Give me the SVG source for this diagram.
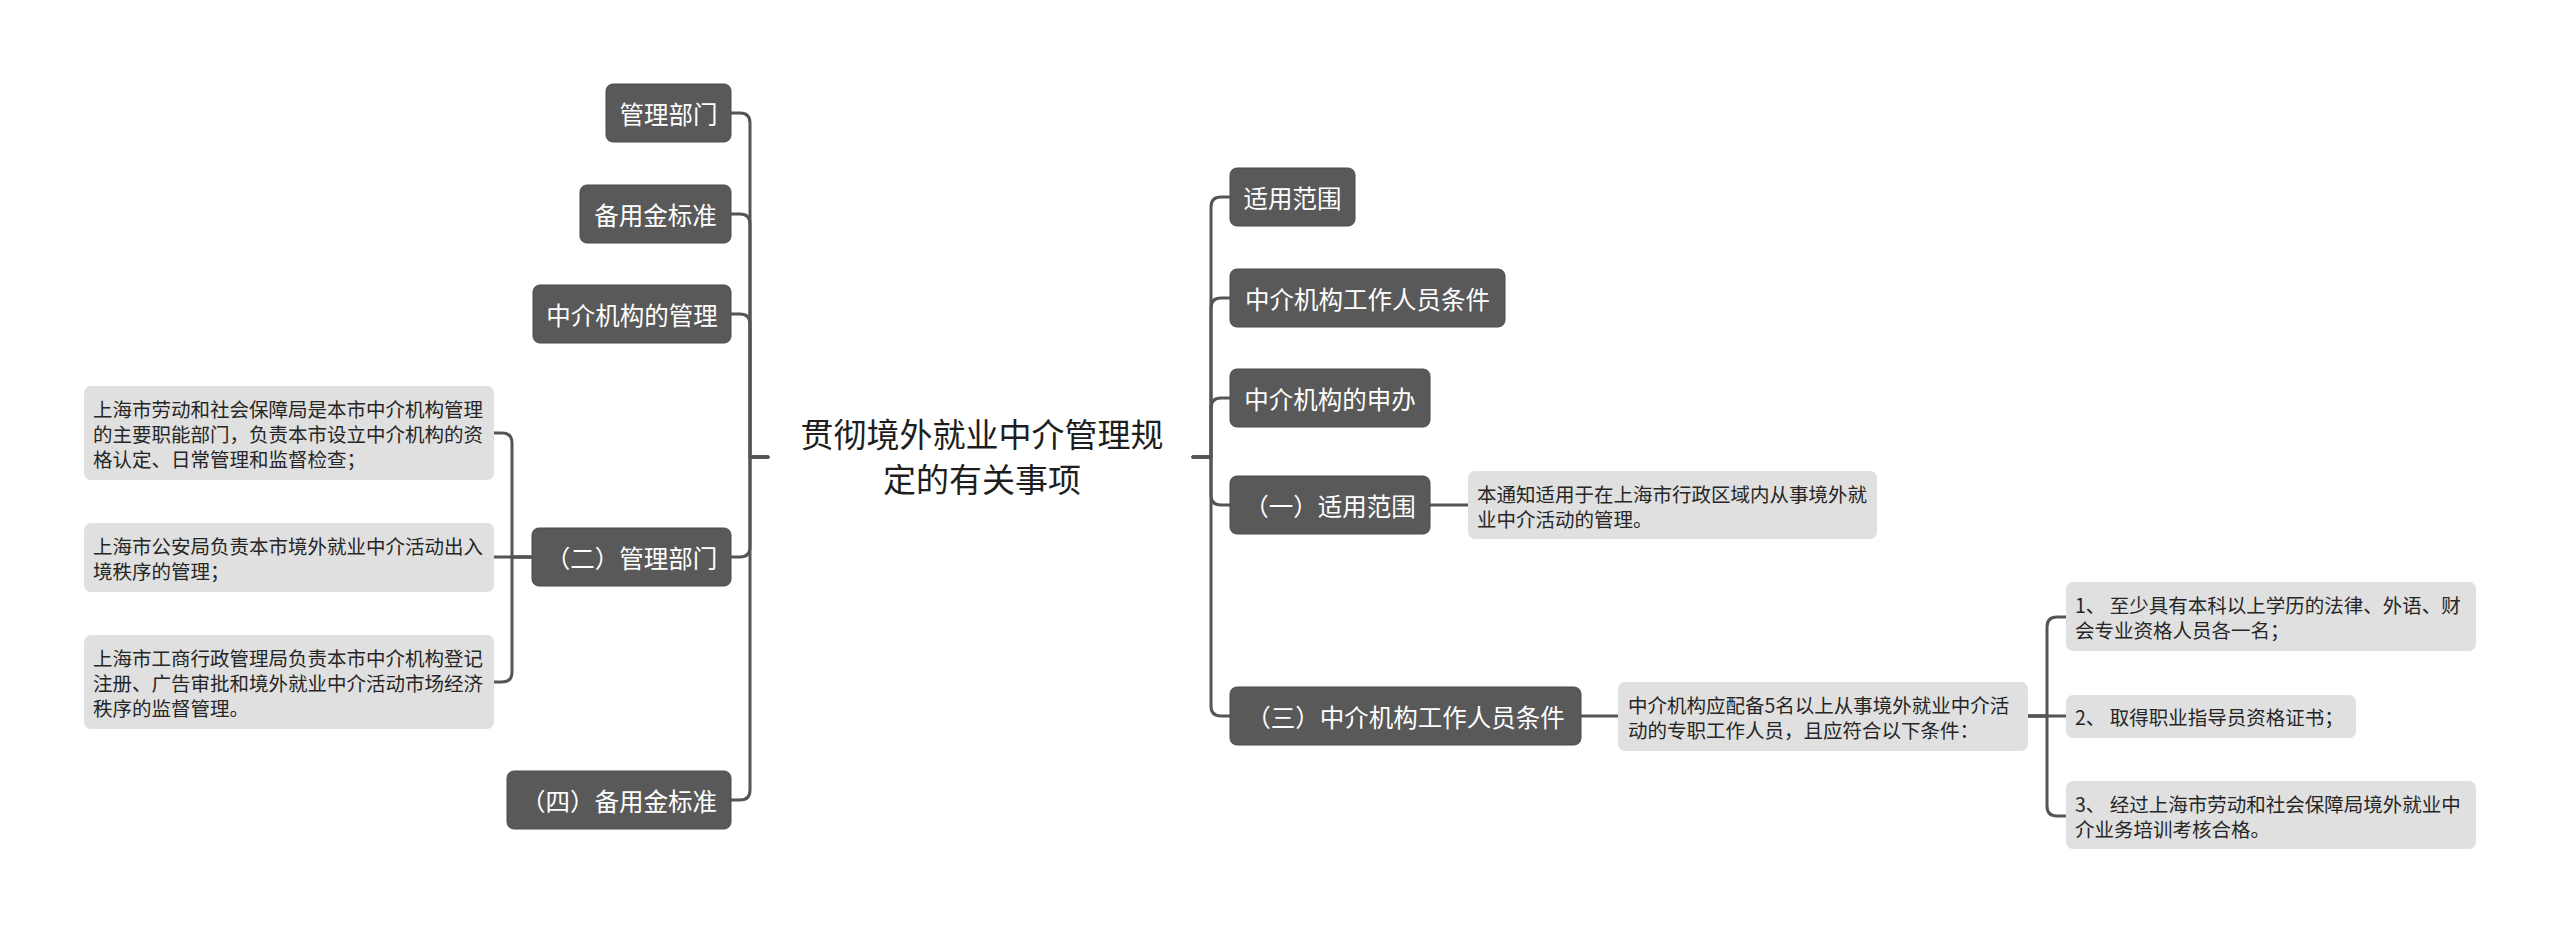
<svg xmlns="http://www.w3.org/2000/svg" width="2560" height="934" viewBox="0 0 2560 934">
<style>
.bg{fill:#ffffff}
.node rect{fill:#595959;stroke:#4a4a4a;stroke-width:1}
.node text{fill:#ffffff;font-family:"Noto Sans CJK SC","Noto Sans",sans-serif;font-size:24.5px;dominant-baseline:central;text-anchor:middle}
.leaf rect{fill:#e0e0e0}
.leaf text{fill:#262626;font-family:"Noto Sans CJK SC","Noto Sans",sans-serif;font-size:19.5px;dominant-baseline:central}
.root text{fill:#1e1e1e;font-family:"Noto Sans CJK SC","Noto Sans",sans-serif;font-size:33px;dominant-baseline:central;text-anchor:middle}
.conn path{fill:none;stroke:#555555;stroke-width:3;stroke-linecap:round;stroke-linejoin:round}
</style>
<rect class="bg" x="0" y="0" width="2560" height="934"/>
<g class="conn" id="connectors">
<path d="M768 457 H750 V123 Q750 113 740 113 H731"/>
<path d="M768 457 H750 V224 Q750 214 740 214 H731"/>
<path d="M768 457 H750 V324 Q750 314 740 314 H731"/>
<path d="M768 457 H750 V547 Q750 557 740 557 H731"/>
<path d="M768 457 H750 V790 Q750 800 740 800 H731"/>
<path d="M531 557 H512 V443 Q512 433 502 433 H494"/>
<path d="M531 557 H494"/>
<path d="M531 557 H512 V672 Q512 682 502 682 H494"/>
<path d="M1193 457 H1211 V207 Q1211 197 1221 197 H1230"/>
<path d="M1193 457 H1211 V308 Q1211 298 1221 298 H1230"/>
<path d="M1193 457 H1211 V408 Q1211 398 1221 398 H1230"/>
<path d="M1193 457 H1211 V495 Q1211 505 1221 505 H1230"/>
<path d="M1193 457 H1211 V706 Q1211 716 1221 716 H1230"/>
<path d="M1430 505 H1468"/>
<path d="M1581 716 H1618"/>
<path d="M2028 716 H2047 V627 Q2047 617 2057 617 H2066"/>
<path d="M2028 716 H2066"/>
<path d="M2028 716 H2047 V806 Q2047 816 2057 816 H2066"/>
</g>
<g class="root" id="root">
<text x="982" y="433">贯彻境外就业中介管理规</text>
<text x="982" y="478">定的有关事项</text>
</g>
<g class="node" id="n-l1"><rect x="606" y="84" width="125" height="58" rx="7"/><text x="668.5" y="113">管理部门</text></g>
<g class="node" id="n-l2"><rect x="580" y="185" width="151" height="58" rx="7"/><text x="655.5" y="214">备用金标准</text></g>
<g class="node" id="n-l3"><rect x="533" y="285" width="198" height="58" rx="7"/><text x="632" y="314">中介机构的管理</text></g>
<g class="node" id="n-l4"><rect x="532" y="528" width="199" height="58" rx="7"/><text x="631.5" y="557">（二）管理部门</text></g>
<g class="node" id="n-l5"><rect x="507" y="771" width="224" height="58" rx="7"/><text x="619" y="800">（四）备用金标准</text></g>
<g class="leaf" id="leaf-l1"><rect x="84" y="386" width="410" height="94" rx="7"/>
<text x="93" y="408">上海市劳动和社会保障局是本市中介机构管理</text>
<text x="93" y="433">的主要职能部门，负责本市设立中介机构的资</text>
<text x="93" y="458">格认定、日常管理和监督检查；</text></g>
<g class="leaf" id="leaf-l2"><rect x="84" y="523" width="410" height="69" rx="7"/>
<text x="93" y="545">上海市公安局负责本市境外就业中介活动出入</text>
<text x="93" y="570">境秩序的管理；</text></g>
<g class="leaf" id="leaf-l3"><rect x="84" y="635" width="410" height="94" rx="7"/>
<text x="93" y="657">上海市工商行政管理局负责本市中介机构登记</text>
<text x="93" y="682">注册、广告审批和境外就业中介活动市场经济</text>
<text x="93" y="707">秩序的监督管理。</text></g>
<g class="node" id="n-r1"><rect x="1230" y="168" width="125" height="58" rx="7"/><text x="1292.5" y="197">适用范围</text></g>
<g class="node" id="n-r2"><rect x="1230" y="269" width="275" height="58" rx="7"/><text x="1367.5" y="298">中介机构工作人员条件</text></g>
<g class="node" id="n-r3"><rect x="1230" y="369" width="200" height="58" rx="7"/><text x="1330" y="398">中介机构的申办</text></g>
<g class="node" id="n-r4"><rect x="1230" y="476" width="200" height="58" rx="7"/><text x="1330" y="505">（一）适用范围</text></g>
<g class="node" id="n-r5"><rect x="1230" y="687" width="351" height="58" rx="7"/><text x="1405.5" y="716">（三）中介机构工作人员条件</text></g>
<g class="leaf" id="leaf-r1"><rect x="1468" y="471" width="409" height="68" rx="7"/>
<text x="1477" y="493">本通知适用于在上海市行政区域内从事境外就</text>
<text x="1477" y="518">业中介活动的管理。</text></g>
<g class="leaf" id="leaf-r2"><rect x="1618" y="682" width="410" height="69" rx="7"/>
<text x="1628" y="704">中介机构应配备5名以上从事境外就业中介活</text>
<text x="1628" y="729">动的专职工作人员，且应符合以下条件：</text></g>
<g class="leaf" id="leaf-r3"><rect x="2066" y="582" width="410" height="69" rx="7"/>
<text x="2075" y="604">1、 至少具有本科以上学历的法律、外语、财</text>
<text x="2075" y="629">会专业资格人员各一名；</text></g>
<g class="leaf" id="leaf-r4"><rect x="2066" y="695" width="290" height="43" rx="7"/>
<text x="2075" y="716">2、 取得职业指导员资格证书；</text></g>
<g class="leaf" id="leaf-r5"><rect x="2066" y="781" width="410" height="68" rx="7"/>
<text x="2075" y="803">3、 经过上海市劳动和社会保障局境外就业中</text>
<text x="2075" y="828">介业务培训考核合格。</text></g>
</svg>
